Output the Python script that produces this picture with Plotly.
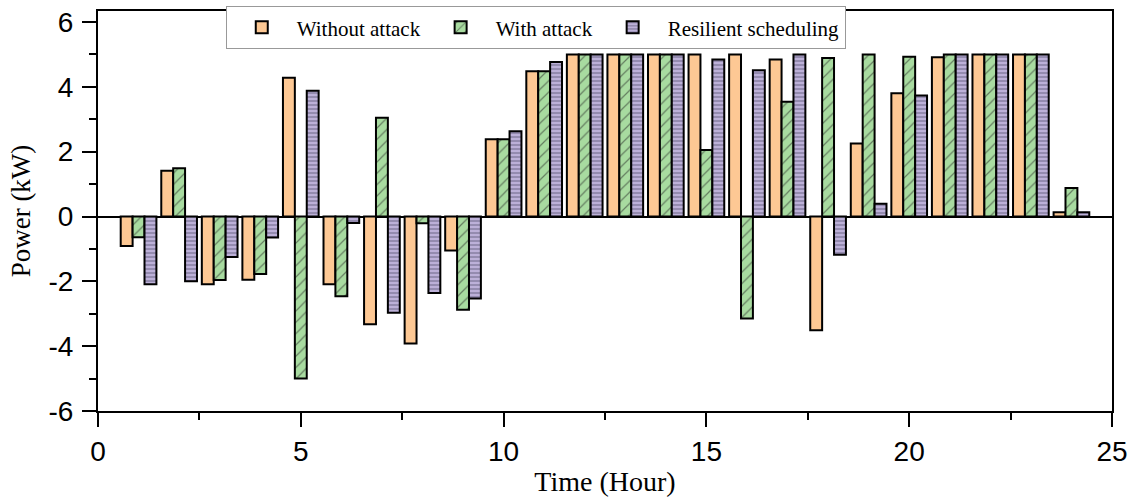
import plotly.graph_objects as go

hours = list(range(1, 25))
without_attack = [-0.91, 1.41, -2.09, -1.95, 4.28, -2.09, -3.32, -3.92, -1.05, 2.38, 4.48, 5.0,
                  5.0, 5.0, 5.0, 5.0, 4.84, -3.51, 2.25, 3.80, 4.91, 5.0, 5.0, 0.13]
with_attack = [-0.64, 1.49, -1.96, -1.77, -5.0, -2.46, 3.05, -0.21, -2.88, 2.38, 4.48, 5.0,
               5.0, 5.0, 2.05, -3.15, 3.54, 4.89, 5.0, 4.93, 5.0, 5.0, 5.0, 0.88]
resilient = [-2.09, -2.0, -1.25, -0.65, 3.88, -0.20, -2.97, -2.36, -2.53, 2.63, 4.77, 5.0,
             5.0, 5.0, 4.84, 4.51, 5.0, -1.18, 0.39, 3.73, 5.0, 5.0, 5.0, 0.13]

series_names = ["Without attack", "With attack", "Resilient scheduling"]
x_ticks = [0, 5, 10, 15, 20, 25]
y_ticks = [-6, -4, -2, 0, 2, 4, 6]

line = dict(color="black", width=2)

fig = go.Figure()
fig.add_trace(go.Bar(x=hours, y=without_attack, name=series_names[0],
                     marker=dict(color="#FDC894", line=line)))
fig.add_trace(go.Bar(x=hours, y=with_attack, name=series_names[1],
                     marker=dict(color="#A8DBA0", line=line,
                                 pattern=dict(shape="/", fgcolor="#222222", bgcolor="#A8DBA0",
                                              size=8, solidity=0.15))))
fig.add_trace(go.Bar(x=hours, y=resilient, name=series_names[2],
                     marker=dict(color="#BCB0D8", line=line,
                                 pattern=dict(shape="-", fgcolor="#4a4560", bgcolor="#BCB0D8",
                                              size=4, solidity=0.35))))

axis_common = dict(showline=True, linecolor="black", linewidth=2, mirror=True,
                   ticks="outside", ticklen=14, tickwidth=2, tickcolor="black",
                   showgrid=False,
                   tickfont=dict(family="Liberation Sans, Arial", size=28, color="black"),
                   minor=dict(ticks="outside", ticklen=7, tickwidth=2, tickcolor="black",
                              showgrid=False))

fig.update_layout(
    width=1138, height=502,
    margin=dict(l=98, r=26, t=6, b=91),
    plot_bgcolor="white", paper_bgcolor="white",
    barmode="group", bargap=0.12, bargroupgap=0,
    font=dict(family="Liberation Serif, Times New Roman", color="black"),
    legend=dict(orientation="h", x=0.126, y=1.012, xanchor="left", yanchor="top",
                bgcolor="white", bordercolor="#999999", borderwidth=1,
                font=dict(family="Liberation Serif, Times New Roman", size=21, color="black"),
                itemwidth=60, tracegroupgap=0),
    xaxis=dict(range=[0, 25], tickvals=x_ticks, ticktext=[str(v) for v in x_ticks],
               title=dict(text="Time (Hour)", standoff=6,
                          font=dict(family="Liberation Serif, Times New Roman", size=28)),
               ticklabelstandoff=0, **axis_common),
    yaxis=dict(range=[-6, 6.34], tickvals=y_ticks, ticktext=[str(v) for v in y_ticks],
               zeroline=True, zerolinecolor="black", zerolinewidth=2,
               title=dict(text="Power (kW)", standoff=10,
                          font=dict(family="Liberation Serif, Times New Roman", size=27)),
               ticklabelstandoff=3, **axis_common),
)
fig.update_xaxes(minor=dict(tickvals=[2.5, 7.5, 12.5, 17.5, 22.5]))
fig.update_yaxes(minor=dict(tickvals=[-5, -3, -1, 1, 3, 5]))

fig.write_html("out.html", config={"displayModeBar": False},
               post_script="document.body.style.margin='0';")
